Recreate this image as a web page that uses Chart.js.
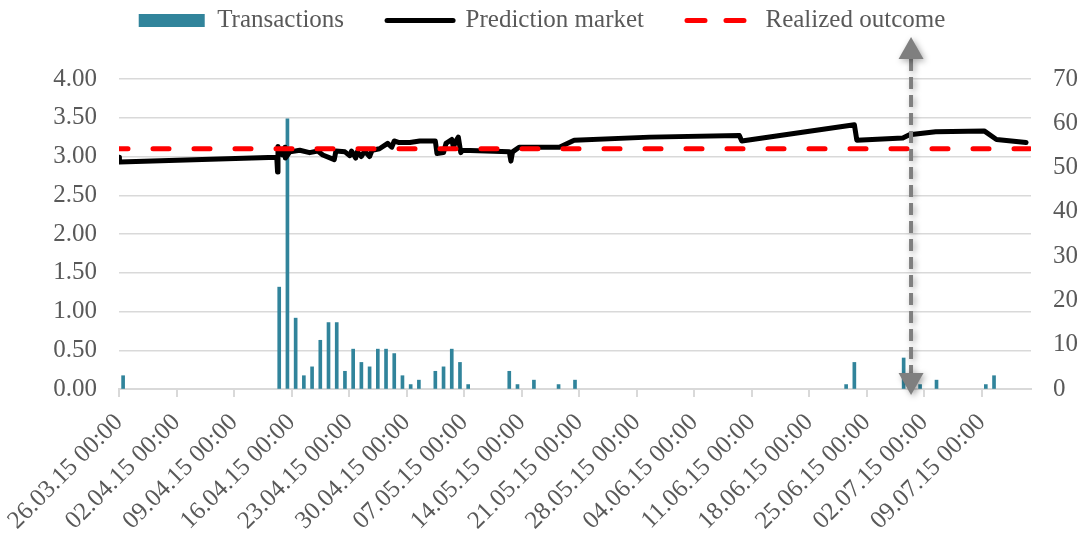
<!DOCTYPE html>
<html lang="en">
<head>
<meta charset="UTF-8">
<title>Transactions and prediction market</title>
<style>
  body { margin: 0; background: #ffffff; }
  #wrap { width: 1084px; height: 534px; }
</style>
</head>
<body>
<div id="wrap"><canvas id="chart"></canvas></div>
<script src="https://cdn.jsdelivr.net/npm/chart.js@4"></script>
<script>
// x values are days counted from 26.03.15 00:00, one tick per week
const xTickLabels = ['26.03.15 00:00', '02.04.15 00:00', '09.04.15 00:00', '16.04.15 00:00',
  '23.04.15 00:00', '30.04.15 00:00', '07.05.15 00:00', '14.05.15 00:00', '21.05.15 00:00',
  '28.05.15 00:00', '04.06.15 00:00', '11.06.15 00:00', '18.06.15 00:00', '25.06.15 00:00',
  '02.07.15 00:00', '09.07.15 00:00'];
const xMax = 111;

// daily number of transactions (right axis)
const txDays   = [0, 19, 20, 21, 22, 23, 24, 25, 26, 27, 28, 29, 30, 31, 32, 33, 34, 35, 36,
  38, 39, 40, 41, 42, 47, 48, 50, 53, 55, 88, 89, 95, 96, 97, 99, 105, 106];
const txCounts = [3, 23, 61, 16, 3, 5, 11, 15, 15, 4, 9, 6, 5, 9, 9, 8, 3, 1, 2,
  4, 5, 9, 6, 1, 4, 1, 2, 1, 2, 1, 6, 7, 3, 1, 2, 1, 3];

// prediction market price (left axis)
const predDays = [0, 0.05, 19.2, 19.3, 19.35, 19.5, 19.9, 20.2, 20.25, 20.8,
  22.0, 23.2, 24.2, 24.8, 26.2, 26.4, 27.5, 28.1, 28.3, 28.8,
  29.0, 29.5, 29.9, 30.5, 30.8, 31.7, 32.7, 33.2, 33.5, 34.1,
  35.4, 36.6, 38.5, 38.7, 39.5, 39.8, 40.5, 40.7, 41.0, 41.3,
  41.6, 41.8, 47.5, 47.7, 47.9, 48.7, 53.6, 55.4, 64.6, 75.5,
  75.8, 89.5, 89.8, 95.4, 96.2, 99.4, 105.3, 106.8, 110.4];
const predValues = [2.99, 2.93, 2.99, 2.80, 3.13, 3.05, 3.02, 3.12, 2.98, 3.06,
  3.08, 3.05, 3.07, 3.02, 2.96, 3.07, 3.06, 3.01, 3.07, 2.98,
  3.06, 3.00, 3.07, 3.00, 3.08, 3.10, 3.17, 3.12, 3.20, 3.18,
  3.18, 3.20, 3.20, 3.04, 3.05, 3.17, 3.22, 3.12, 3.20, 3.25,
  3.05, 3.08, 3.06, 2.94, 3.06, 3.12, 3.12, 3.21, 3.25, 3.27,
  3.20, 3.41, 3.21, 3.24, 3.28, 3.32, 3.33, 3.22, 3.18];

const realizedValue = 3.1;
const outcomeDay = 96.4;

const teal = '#31849B';
const textColor = '#595959';
const font = { family: 'Liberation Serif', size: 25 };

// the legend needs wide gaps between items, then gets moved up to the top edge
const legendShift = {
  id: 'legendShift',
  afterLayout(chart) {
    chart.legend.top -= 36;
    chart.legend.bottom -= 36;
  }
};

// grey double arrow marking the outcome date
const outcomeArrow = {
  id: 'outcomeArrow',
  afterDatasetsDraw(chart) {
    const { ctx, chartArea, scales } = chart;
    const px = scales.x.getPixelForValue(outcomeDay);
    const top = chartArea.top - 42;
    const bottom = chartArea.bottom + 6;
    const head = 22, half = 12.5;
    ctx.save();
    ctx.shadowColor = 'rgba(0,0,0,0.35)';
    ctx.shadowBlur = 6;
    ctx.shadowOffsetX = 2;
    ctx.shadowOffsetY = 2;
    ctx.strokeStyle = '#7F7F7F';
    ctx.fillStyle = '#7F7F7F';
    ctx.lineWidth = 4;
    ctx.setLineDash([12, 6]);
    ctx.beginPath();
    ctx.moveTo(px, top + head);
    ctx.lineTo(px, bottom - head);
    ctx.stroke();
    ctx.setLineDash([]);
    ctx.beginPath();
    ctx.moveTo(px, top);
    ctx.lineTo(px - half, top + head);
    ctx.lineTo(px + half, top + head);
    ctx.closePath();
    ctx.fill();
    ctx.beginPath();
    ctx.moveTo(px, bottom);
    ctx.lineTo(px - half, bottom - head);
    ctx.lineTo(px + half, bottom - head);
    ctx.closePath();
    ctx.fill();
    ctx.restore();
  }
};

const ctx = document.getElementById('chart').getContext('2d');
const chart = new Chart(ctx, {
  type: 'line',
  data: {
    datasets: [
      {
        type: 'bar',
        label: 'Transactions',
        data: txDays.map((d, i) => ({ x: d + 0.5, y: txCounts[i] })),
        backgroundColor: teal,
        barThickness: 3,
        yAxisID: 'y1',
        order: 3
      },
      {
        label: 'Prediction market',
        data: predDays.map((d, i) => ({ x: d, y: predValues[i] })),
        borderColor: '#000000',
        borderWidth: 5,
        borderJoinStyle: 'round',
        borderCapStyle: 'round',
        pointRadius: 0,
        tension: 0,
        yAxisID: 'y',
        order: 2
      },
      {
        label: 'Realized outcome',
        data: [{ x: 0, y: realizedValue }, { x: xMax, y: realizedValue }],
        borderColor: '#FF0000',
        borderWidth: 5,
        borderDash: [16, 25],
        borderDashOffset: 7,
        borderCapStyle: 'round',
        pointRadius: 0,
        yAxisID: 'y',
        order: 1
      }
    ]
  },
  options: {
    responsive: true,
    maintainAspectRatio: false,
    animation: false,
    layout: { padding: { top: 1, left: 0, right: 0, bottom: 0 } },
    plugins: {
      tooltip: { enabled: false },
      legend: {
        position: 'top',
        labels: {
          usePointStyle: true,
          pointStyleWidth: 66,
          boxHeight: 13,
          padding: 43,
          color: textColor,
          font: font,
          generateLabels: () => [
            { text: 'Transactions', pointStyle: 'rect', fillStyle: teal, strokeStyle: teal,
              lineWidth: 0, fontColor: textColor, datasetIndex: 0 },
            { text: 'Prediction market', pointStyle: 'line', strokeStyle: '#000000',
              lineWidth: 5, lineCap: 'round', fontColor: textColor, datasetIndex: 1 },
            { text: 'Realized outcome', pointStyle: 'line', strokeStyle: '#FF0000',
              lineWidth: 5, lineCap: 'round', lineDash: [18, 21], fontColor: textColor, datasetIndex: 2 }
          ]
        }
      }
    },
    scales: {
      x: {
        type: 'linear',
        min: 0,
        max: xMax,
        offset: false,
        afterBuildTicks: (s) => { s.ticks = xTickLabels.map((_, i) => ({ value: i * 7 })); },
        afterFit: (s) => { s.height = 145; },
        ticks: {
          autoSkip: false,
          minRotation: 45,
          maxRotation: 45,
          padding: 11,
          color: textColor,
          font: font,
          callback: (v, i) => xTickLabels[i]
        },
        grid: { drawOnChartArea: false, drawTicks: true, tickLength: 8, color: '#D9D9D9', lineWidth: 2, offset: false },
        border: { color: '#D9D9D9', width: 2 }
      },
      y: {
        position: 'left',
        min: 0,
        max: 4,
        afterFit: (s) => { s.width = 119; },
        ticks: { stepSize: 0.5, padding: 22, color: textColor, font: font, callback: (v) => v.toFixed(2) },
        grid: { color: '#D9D9D9', lineWidth: 1.5, drawTicks: false },
        border: { display: false }
      },
      y1: {
        position: 'right',
        min: 0,
        max: 70,
        afterFit: (s) => { s.width = 53; },
        ticks: { stepSize: 10, padding: 22, color: textColor, font: font },
        grid: { drawOnChartArea: false, drawTicks: false },
        border: { display: false }
      }
    }
  },
  plugins: [legendShift, outcomeArrow]
});
</script>
</body>
</html>
